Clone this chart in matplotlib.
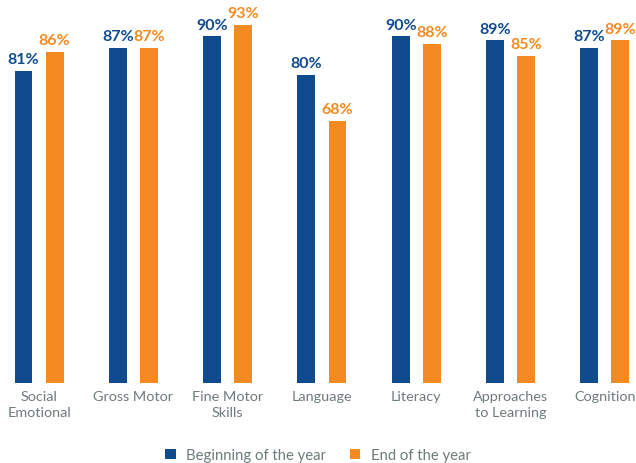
import numpy as np
import matplotlib.pyplot as plt

# Data
categories = ['Social\nEmotional', 'Gross Motor', 'Fine Motor\nSkills', 'Language',
              'Literacy', 'Approaches\nto Learning', 'Cognition']
beginning = [81, 87, 90, 80, 90, 89, 87]
end_year = [86, 87, 93, 68, 88, 85, 89]

blue = '#104b8e'
orange = '#f58a22'
grey = '#6e7b7c'

plt.rcParams['font.family'] = ['Lato', 'DejaVu Sans']

fig = plt.figure(figsize=(6.36, 4.64), dpi=100)
ax = fig.add_axes([0, 80 / 464, 1, 384 / 464])

x = np.arange(len(categories))
w = 0.19
off = 0.165
b1 = ax.bar(x - off, beginning, w, color=blue, label='Beginning of the year')
b2 = ax.bar(x + off, end_year, w, color=orange, label='End of the year')

for rect, v in zip(b1, beginning):
    ax.text(rect.get_x() + rect.get_width() / 2, v + 1.2, f'{v}%', ha='center', va='bottom',
            color=blue, fontsize=11.5, fontweight='bold')
for rect, v in zip(b2, end_year):
    ax.text(rect.get_x() + rect.get_width() / 2, v + 1.2, f'{v}%', ha='center', va='bottom',
            color=orange, fontsize=11.5, fontweight='bold')

ax.set_xlim(-0.414, 6.33)
ax.set_ylim(0, 99.7)
ax.set_xticks(x)
ax.set_xticklabels(categories, color=grey, fontsize=10.4, linespacing=1.45)
ax.tick_params(axis='x', length=0, pad=5)
ax.set_yticks([])
for s in ax.spines.values():
    s.set_visible(False)

fig.legend(handles=[b1, b2], loc='center', bbox_to_anchor=(0.5, 8 / 464), ncol=2,
           frameon=False, fontsize=10.7, labelcolor=grey, handlelength=0.7, handleheight=0.7,
           columnspacing=1.6, handletextpad=0.7)

fig.savefig('out.png', dpi=100)
